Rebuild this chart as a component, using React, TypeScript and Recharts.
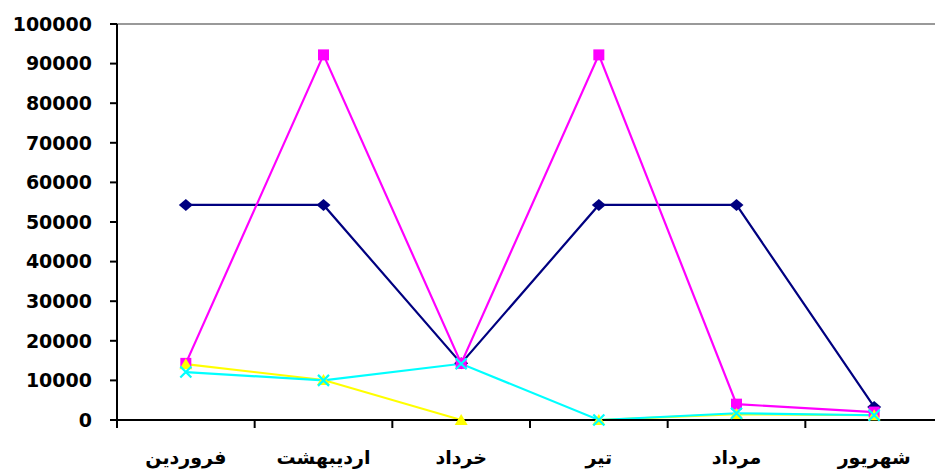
import { LineChart, Line, XAxis, YAxis, ReferenceLine } from "recharts"

const months = ["فروردین", "اردیبهشت", "خرداد", "تیر", "مرداد", "شهریور"]
const navySeries = [54300, 54300, 14300, 54300, 54300, 3300]
const magentaSeries = [14300, 92200, 14300, 92200, 4000, 2000]
const yellowSeries = [14100, 10100, 0, 0, 1500, 1200]
const cyanSeries = [12100, 10000, 14200, 0, 1700, 1200]
const yTicks = [0, 10000, 20000, 30000, 40000, 50000, 60000, 70000, 80000, 90000, 100000]

const data = months.map((name, i) => ({
  x: i + 0.5,
  name,
  navy: navySeries[i],
  magenta: magentaSeries[i],
  yellow: yellowSeries[i],
  cyan: cyanSeries[i],
}))

// boundary ticks at integers, labels in the middle of each band
const xTicks: number[] = []
months.forEach((_, i) => xTicks.push(i, i + 0.5))
xTicks.push(months.length)

const X_TICK_SIZE = 8
const X_TICK_MARGIN = 23
const font = "'DejaVu Sans', Verdana, sans-serif"

function XTick(props: any) {
  const { x, y, payload } = props
  const v = payload.value
  if (Number.isInteger(v)) {
    const top = y - X_TICK_MARGIN - X_TICK_SIZE
    return <line x1={x} x2={x} y1={top} y2={top + X_TICK_SIZE} stroke="#000" strokeWidth={2} />
  }
  return (
    <text x={x} y={y} dy="0.71em" textAnchor="middle" fontFamily={font} fontWeight="bold" fontSize={19} fill="#000">
      {months[Math.floor(v)]}
    </text>
  )
}

function Diamond({ cx, cy }: any) {
  return <path d={`M${cx - 7},${cy} L${cx},${cy - 6} L${cx + 7},${cy} L${cx},${cy + 6} Z`} fill="#000080" />
}

function Square({ cx, cy }: any) {
  return <rect x={cx - 5.5} y={cy - 5.5} width={11} height={11} fill="#ff00ff" />
}

function Triangle({ cx, cy }: any) {
  return <path d={`M${cx},${cy - 6} L${cx + 6.5},${cy + 5} L${cx - 6.5},${cy + 5} Z`} fill="#ffff00" />
}

function Cross({ cx, cy }: any) {
  return (
    <path
      d={`M${cx - 5.5},${cy - 5.5} L${cx + 5.5},${cy + 5.5} M${cx + 5.5},${cy - 5.5} L${cx - 5.5},${cy + 5.5}`}
      stroke="#00ffff"
      strokeWidth={2.2}
      fill="none"
    />
  )
}

export default function App() {
  return (
    <LineChart width={935} height={463} data={data} margin={{ top: 16, right: 0, bottom: 0, left: 0 }}>
      <ReferenceLine y={100000} stroke="#999999" strokeWidth={2} />
      <XAxis
        type="number"
        dataKey="x"
        domain={[0, months.length]}
        ticks={xTicks}
        interval={0}
        height={51}
        tickSize={X_TICK_SIZE}
        tickMargin={X_TICK_MARGIN}
        tickLine={false}
        tick={<XTick />}
        axisLine={{ stroke: "#000", strokeWidth: 2 }}
      />
      <YAxis
        width={109}
        domain={[0, 100000]}
        ticks={yTicks}
        interval={0}
        tickSize={7}
        tickMargin={18}
        tickLine={{ stroke: "#000", strokeWidth: 2 }}
        axisLine={{ stroke: "#000", strokeWidth: 2 }}
        tick={{ fill: "#000", fontSize: 19, fontWeight: "bold", fontFamily: font }}
      />
      <Line dataKey="navy" stroke="#000080" strokeWidth={2.2} dot={<Diamond />} isAnimationActive={false} />
      <Line dataKey="magenta" stroke="#ff00ff" strokeWidth={2.2} dot={<Square />} isAnimationActive={false} />
      <Line dataKey="yellow" stroke="#ffff00" strokeWidth={2.2} dot={<Triangle />} isAnimationActive={false} />
      <Line dataKey="cyan" stroke="#00ffff" strokeWidth={2.2} dot={<Cross />} isAnimationActive={false} />
    </LineChart>
  )
}
